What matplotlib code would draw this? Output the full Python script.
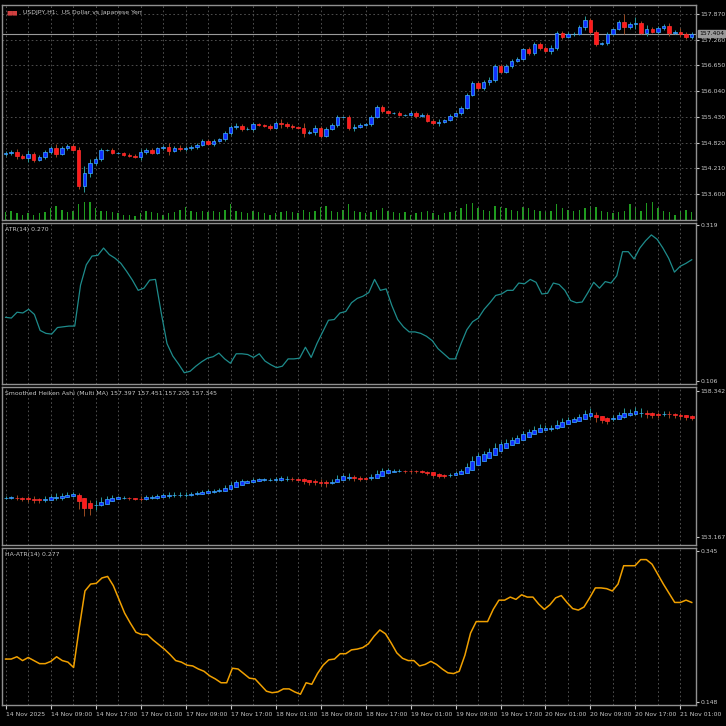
import numpy as np
import pandas as pd
import matplotlib
matplotlib.use('Agg')
import matplotlib.pyplot as plt

# USDJPY H1 closes (open = previous close)
closes = [154.570, 154.594, 154.499, 154.451, 154.546, 154.404, 154.475, 154.594, 154.689, 154.546,
          154.689, 154.736, 154.641, 153.786, 154.095, 154.332, 154.427, 154.641, 154.641, 154.570,
          154.570, 154.522, 154.499, 154.475, 154.594, 154.641, 154.570, 154.689, 154.712, 154.617,
          154.689, 154.665, 154.689, 154.712, 154.760, 154.855, 154.784, 154.855, 154.902, 155.045,
          155.187, 155.211, 155.140, 155.140, 155.258, 155.235, 155.211, 155.163, 155.282, 155.258,
          155.211, 155.187, 155.163, 155.045, 155.069, 155.163, 154.973, 155.140, 155.235, 155.425,
          155.425, 155.163, 155.187, 155.235, 155.258, 155.425, 155.662, 155.567, 155.519, 155.519,
          155.472, 155.472, 155.519, 155.448, 155.472, 155.329, 155.282, 155.306, 155.353, 155.448,
          155.519, 155.638, 155.947, 156.232, 156.113, 156.255, 156.303, 156.635, 156.493, 156.635,
          156.754, 156.801, 157.039, 156.944, 157.158, 157.063, 156.991, 157.063, 157.419, 157.324,
          157.395, 157.395, 157.561, 157.727, 157.442, 157.158, 157.181, 157.395, 157.514, 157.680,
          157.561, 157.632, 157.656, 157.419, 157.514, 157.442, 157.537, 157.585, 157.419, 157.442,
          157.395, 157.324, 157.404]
first_open = 154.546
wicks = [0.05, 0.06, 0.08, 0.04, 0.10, 0.05, 0.04, 0.06, 0.05, 0.09, 0.04, 0.05, 0.04, 0.08, 0.17,
         0.10, 0.06, 0.05, 0.03, 0.04, 0.03, 0.03, 0.04, 0.04, 0.08, 0.05, 0.04, 0.03, 0.06, 0.10,
         0.04, 0.07, 0.06, 0.06, 0.05, 0.04, 0.04, 0.05, 0.03, 0.05, 0.06, 0.07, 0.05, 0.04, 0.05,
         0.03, 0.03, 0.05, 0.04, 0.10, 0.05, 0.06, 0.03, 0.12, 0.04, 0.08, 0.06, 0.04, 0.04, 0.05,
         0.03, 0.05, 0.08, 0.04, 0.03, 0.05, 0.04, 0.05, 0.03, 0.03, 0.04, 0.03, 0.04, 0.05, 0.04,
         0.04, 0.06, 0.08, 0.03, 0.04, 0.03, 0.05, 0.04, 0.04, 0.05, 0.05, 0.08, 0.05, 0.04, 0.04,
         0.05, 0.04, 0.03, 0.05, 0.05, 0.06, 0.04, 0.08, 0.05, 0.06, 0.04, 0.05, 0.04, 0.10, 0.05,
         0.06, 0.03, 0.05, 0.03, 0.04, 0.20, 0.06, 0.15, 0.04, 0.10, 0.04, 0.05, 0.05, 0.08, 0.04,
         0.10, 0.06, 0.05]
volumes = [6, 7, 5, 4, 5, 4, 5, 6, 9, 11, 8, 6, 7, 12, 14, 14, 9, 7, 7, 6, 5, 4, 4, 3, 5, 7, 6, 5, 4, 5,
           6, 8, 10, 7, 6, 7, 6, 7, 6, 8, 12, 7, 6, 5, 7, 6, 5, 4, 5, 6, 7, 6, 5, 8, 6, 7, 10, 11, 7, 6,
           8, 12, 7, 6, 5, 6, 8, 9, 7, 6, 5, 6, 4, 5, 6, 7, 5, 4, 5, 6, 7, 9, 12, 13, 9, 8, 7, 11, 10, 9,
           8, 7, 10, 9, 8, 7, 6, 7, 12, 9, 8, 7, 8, 9, 11, 10, 7, 6, 5, 6, 7, 12, 10, 7, 13, 14, 9, 7, 6, 4,
           7, 8, 6]
atr_vals = [0.193, 0.192, 0.200, 0.199, 0.204, 0.197, 0.175, 0.171, 0.170, 0.179, 0.180, 0.181, 0.181,
            0.237, 0.265, 0.277, 0.278, 0.288, 0.279, 0.274, 0.267, 0.256, 0.244, 0.230, 0.233, 0.244,
            0.245, 0.199, 0.157, 0.140, 0.129, 0.117, 0.119, 0.126, 0.132, 0.137, 0.139, 0.144, 0.136,
            0.130, 0.143, 0.143, 0.142, 0.138, 0.143, 0.133, 0.128, 0.124, 0.126, 0.136, 0.136, 0.137,
            0.152, 0.138, 0.157, 0.173, 0.189, 0.190, 0.199, 0.201, 0.213, 0.219, 0.222, 0.227, 0.245,
            0.230, 0.232, 0.209, 0.190, 0.180, 0.173, 0.173, 0.171, 0.167, 0.161, 0.150, 0.143, 0.136,
            0.136, 0.157, 0.176, 0.187, 0.192, 0.204, 0.213, 0.223, 0.225, 0.230, 0.230, 0.240, 0.239,
            0.245, 0.241, 0.225, 0.226, 0.240, 0.238, 0.230, 0.216, 0.213, 0.214, 0.227, 0.241, 0.233,
            0.242, 0.240, 0.250, 0.283, 0.283, 0.273, 0.288, 0.298, 0.306, 0.300, 0.288, 0.274, 0.255,
            0.263, 0.267, 0.272]
haatr_vals = [0.204, 0.204, 0.207, 0.202, 0.206, 0.202, 0.198, 0.198, 0.201, 0.207, 0.202, 0.200, 0.193,
              0.245, 0.293, 0.302, 0.303, 0.310, 0.312, 0.300, 0.282, 0.264, 0.251, 0.239, 0.236, 0.236,
              0.229, 0.223, 0.217, 0.210, 0.202, 0.200, 0.196, 0.195, 0.191, 0.188, 0.182, 0.178, 0.173,
              0.173, 0.192, 0.191, 0.185, 0.179, 0.178, 0.170, 0.162, 0.160, 0.161, 0.165, 0.165, 0.161,
              0.158, 0.173, 0.171, 0.185, 0.196, 0.203, 0.204, 0.211, 0.211, 0.216, 0.217, 0.219, 0.224,
              0.234, 0.242, 0.237, 0.225, 0.212, 0.205, 0.202, 0.202, 0.195, 0.197, 0.201, 0.197, 0.191,
              0.186, 0.185, 0.188, 0.209, 0.238, 0.253, 0.253, 0.253, 0.269, 0.281, 0.281, 0.285, 0.282,
              0.288, 0.285, 0.285, 0.276, 0.269, 0.275, 0.284, 0.287, 0.278, 0.270, 0.268, 0.272, 0.284,
              0.297, 0.297, 0.296, 0.293, 0.302, 0.326, 0.326, 0.326, 0.334, 0.334, 0.328, 0.315, 0.302,
              0.290, 0.278, 0.278, 0.281, 0.278]
time_labels = ['14 Nov 2025', '14 Nov 09:00', '14 Nov 17:00', '17 Nov 01:00', '17 Nov 09:00',
               '17 Nov 17:00', '18 Nov 01:00', '18 Nov 09:00', '18 Nov 17:00', '19 Nov 01:00',
               '19 Nov 09:00', '19 Nov 17:00', '20 Nov 01:00', '20 Nov 09:00', '20 Nov 17:00',
               '21 Nov 01:00']
price_ticks = [157.870, 157.260, 156.650, 156.040, 155.430, 154.820, 154.210, 153.600]
last_price = 157.404

c = np.array(closes)
o = np.concatenate([[first_open], c[:-1]])
w = np.array(wicks)
h = np.maximum(o, c) + w
l = np.minimum(o, c) - w * 0.8
n = len(c)
x = np.arange(n)

# smoothed heiken ashi
df = pd.DataFrame({'o': o, 'h': h, 'l': l, 'c': c}).ewm(span=3, adjust=False).mean()
ha_c = (df.o + df.h + df.l + df.c).values / 4
ha_o = np.zeros(n)
ha_o[0] = (df.o[0] + df.c[0]) / 2
for k in range(1, n):
    ha_o[k] = (ha_o[k - 1] + ha_c[k - 1]) / 2
ha_h = np.maximum(df.h.values, np.maximum(ha_o, ha_c))
ha_l = np.minimum(df.l.values, np.minimum(ha_o, ha_c))

BG = 'black'
TXT = '#c8c8c8'
GRID = '#5a5a5a'
FS = 4.4
plt.rcParams['font.family'] = ['Liberation Sans Narrow', 'DejaVu Sans']

fig = plt.figure(figsize=(7.26, 7.26), dpi=100, facecolor=BG)
L, W = 0.003, 0.956
ax1 = fig.add_axes([L, 0.697, W, 0.296])
ax2 = fig.add_axes([L, 0.471, W, 0.222])
ax3 = fig.add_axes([L, 0.249, W, 0.218])
ax4 = fig.add_axes([L, 0.029, W, 0.216])
axs = [ax1, ax2, ax3, ax4]

# volumes behind the candles
axv = ax1.twinx()
axv.bar(x, volumes, width=0.25, color='#1f9b1f', zorder=1)
axv.set_ylim(0, 165)
axv.axis('off')
ax1.set_zorder(axv.get_zorder() + 1)
ax1.patch.set_visible(False)
bgax = fig.add_axes([L, 0.697, W, 0.296], zorder=-5)
bgax.set_facecolor(BG)
bgax.set_xticks([])
bgax.set_yticks([])

for ax in axs:
    ax.set_facecolor(BG)
    for s in ax.spines.values():
        s.set_color('#909090')
        s.set_linewidth(1.0)
    ax.set_xlim(-0.6, 122.8)
    ax.yaxis.tick_right()
    ax.tick_params(axis='y', colors=TXT, labelsize=FS, length=2, pad=1)
    ax.tick_params(axis='x', bottom=False, labelbottom=False)
    for k in range(0, n, 4):
        ax.axvline(k, color=GRID, ls=(0, (2, 3)), lw=0.6, zorder=0)


def candles(ax, op, hi, lo, cl, width):
    up = cl >= op
    ax.vlines(x[up], lo[up], hi[up], color='#2a9a9a', lw=0.7, zorder=2)
    ax.vlines(x[~up], lo[~up], hi[~up], color='#9a4a22', lw=0.7, zorder=2)
    ax.bar(x[up], (cl - op)[up], bottom=op[up], width=width, color='#1030ff',
           edgecolor='#40b0ff', lw=0.5, zorder=3)
    ax.bar(x[~up], (cl - op)[~up], bottom=op[~up], width=width, color='#ff1a1a',
           edgecolor='#ff3030', lw=0.5, zorder=3)


candles(ax1, o, h, l, c, 0.62)
ax1.set_ylim(152.983, 158.084)
ax1.set_yticks(price_ticks)
ax1.set_yticklabels(['%.3f' % p for p in price_ticks])
for p in price_ticks:
    ax1.axhline(p, color=GRID, ls=(0, (2, 3)), lw=0.6, zorder=0)
ax1.axhline(last_price, color='#9a9a9a', lw=0.8, zorder=1)
ax1.text(1.004, last_price, '%.3f' % last_price, transform=ax1.get_yaxis_transform(),
         fontsize=FS, color='black', va='center', ha='left',
         bbox=dict(boxstyle='square,pad=0.15', fc='#9a9a9a', ec='#9a9a9a'))
ax1.text(0.03, 0.975, 'USDJPY,H1:  US Dollar vs Japanese Yen', transform=ax1.transAxes,
         fontsize=FS, color=TXT, va='top')
ax1.text(0.006, 0.975, '\u25a0\u25a0', transform=ax1.transAxes, fontsize=FS,
         color='#d04040', va='top')

ax2.plot(np.linspace(0, n - 1, len(atr_vals)), atr_vals, color='#1e8c8c', lw=0.9)
ax2.set_ylim(0.1015, 0.3225)
ax2.set_yticks([0.106, 0.319])
ax2.set_yticklabels(['0.106', '0.319'])
ax2.text(0.004, 0.975, 'ATR(14) 0.270', transform=ax2.transAxes, fontsize=FS, color=TXT, va='top')

candles(ax3, ha_o, ha_h, ha_l, ha_c, 0.7)
ax3.set_ylim(152.88, 158.484)
ax3.set_yticks([153.167, 158.342])
ax3.set_yticklabels(['153.167', '158.342'])
ax3.text(0.004, 0.975, 'Smoothed Heiken Ashi (Multi MA) 157.397 157.451 157.205 157.345',
         transform=ax3.transAxes, fontsize=FS, color=TXT, va='top')

ax4.plot(np.linspace(0, n - 1, len(haatr_vals)), haatr_vals, color='#f0a000', lw=1.1)
ax4.set_ylim(0.144, 0.349)
ax4.set_yticks([0.148, 0.345])
ax4.set_yticklabels(['0.148', '0.345'])
ax4.text(0.004, 0.975, 'HA-ATR(14) 0.277', transform=ax4.transAxes, fontsize=FS, color=TXT, va='top')

ax4.set_xticks(np.arange(0, 8 * len(time_labels), 8))
ax4.set_xticklabels(time_labels, ha='left')
ax4.tick_params(axis='x', bottom=True, labelbottom=True, colors=TXT, labelsize=FS,
                length=3, pad=2)

fig.savefig('out.png', dpi=100, facecolor=BG)
